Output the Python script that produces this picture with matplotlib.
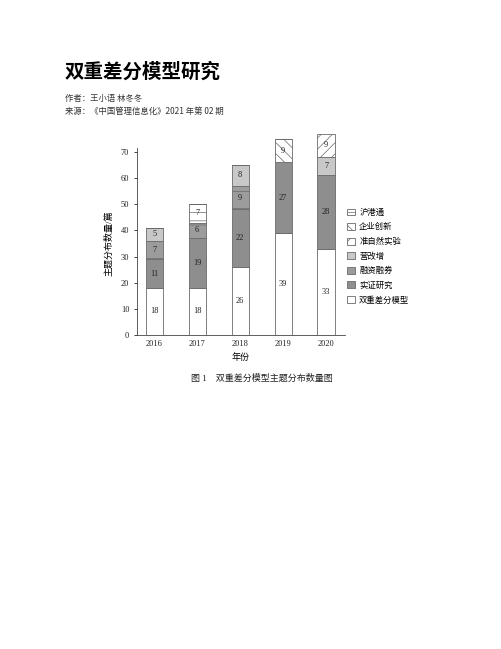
import matplotlib
matplotlib.use('Agg')
import matplotlib.pyplot as plt
from matplotlib.patches import Patch
import numpy as np

plt.rcParams['font.family'] = ['Liberation Serif', 'Noto Sans CJK SC']
plt.rcParams['hatch.linewidth'] = 0.5

# dados
anos = ['2016', '2017', '2018', '2019', '2020']
series = ['双重差分模型', '实证研究', '融资融券', '营改增', '沪港通', '企业创新', '准自然实验']
valores = {
    '双重差分模型': [18, 18, 26, 39, 33],
    '实证研究':     [11, 19, 22, 27, 28],
    '融资融券':     [7, 6, 9, 0, 0],
    '营改增':       [5, 0, 8, 0, 7],
    '沪港通':       [0, 7, 0, 0, 0],
    '企业创新':     [0, 0, 0, 9, 0],
    '准自然实验':   [0, 0, 0, 0, 9],
}
legenda_ordem = ['沪港通', '企业创新', '准自然实验', '营改增', '融资融券', '实证研究', '双重差分模型']

estilo = {
    '双重差分模型': dict(facecolor='white', hatch=None),
    '实证研究':     dict(facecolor='#8e8e8e', hatch=None),
    '融资融券':     dict(facecolor='#9c9c9c', hatch='-'),
    '营改增':       dict(facecolor='#c8c8c8', hatch=None),
    '沪港通':       dict(facecolor='white', hatch='--'),
    '企业创新':     dict(facecolor='white', hatch='\\\\\\'),
    '准自然实验':   dict(facecolor='white', hatch='///'),
}

fig = plt.figure(figsize=(5.02, 6.49), dpi=100)

# cabeçalho do documento
fig.text(65 / 502, 1 - 72 / 649, '双重差分模型研究', family='Noto Sans CJK SC',
         fontsize=14, fontweight='bold', va='center', ha='left')
fig.text(65 / 502, 1 - 98 / 649, '作者：王小语 林冬冬', family='Noto Sans CJK SC',
         fontsize=6, va='center', ha='left', color='#333333')
fig.text(65 / 502, 1 - 111 / 649, '来源：《中国管理信息化》2021 年第 02 期', family='Noto Sans CJK SC',
         fontsize=6, va='center', ha='left', color='#333333')

# eixo: 0 em y=335 px, 2.614 px por unidade, até 78 unidades
ax = fig.add_axes([137 / 502, 1 - 335 / 649, 208 / 502, 204 / 649])
ax.patch.set_alpha(0)

x = np.arange(len(anos))
base = np.zeros(len(anos))
for s in series:
    v = np.array(valores[s], dtype=float)
    st = estilo[s]
    ax.bar(x, v, 0.4, bottom=base, facecolor=st['facecolor'], hatch=st['hatch'],
           edgecolor='#6a6a6a', linewidth=0.6)
    for i in range(len(anos)):
        if v[i] > 0:
            ax.text(x[i], base[i] + v[i] / 2, '%d' % v[i], ha='center', va='center',
                    fontsize=6, color='#222222')
    base = base + v

ax.set_xlim(-0.4, 4.44)
ax.set_ylim(0, 78)
ax.set_yticks(range(0, 71, 10))
ax.set_xticks(x)
ax.set_xticklabels(anos)
ax.tick_params(labelsize=6, length=2, width=0.6, colors='#222222')
ax.tick_params(axis='x', length=0)
for lado in ['top', 'right']:
    ax.spines[lado].set_visible(False)
for lado in ['left', 'bottom']:
    ax.spines[lado].set_linewidth(0.6)
    ax.spines[lado].set_color('#444444')
ax.spines['left'].set_bounds(0, 71.5)

ax.set_xlabel('年份', fontsize=6.5, labelpad=4)
ax.set_ylabel('主题分布数量/篇', fontsize=6.5, labelpad=4)
ax.yaxis.set_label_coords(-0.115, 35 / 78)

handles = [Patch(facecolor=estilo[s]['facecolor'], hatch=estilo[s]['hatch'],
                 edgecolor='#6a6a6a', linewidth=0.6, label=s) for s in legenda_ordem]
fig.legend(handles=handles, loc='upper left', bbox_to_anchor=(340 / 502, 1 - 201 / 649),
           frameon=False, fontsize=6, handlelength=0.9, handleheight=0.9,
           handletextpad=0.5, labelspacing=0.75)

fig.text(262 / 502, 1 - 378 / 649, '图 1    双重差分模型主题分布数量图', fontsize=6.5,
         ha='center', va='center', color='#222222')

fig.savefig('out.png', dpi=100)
